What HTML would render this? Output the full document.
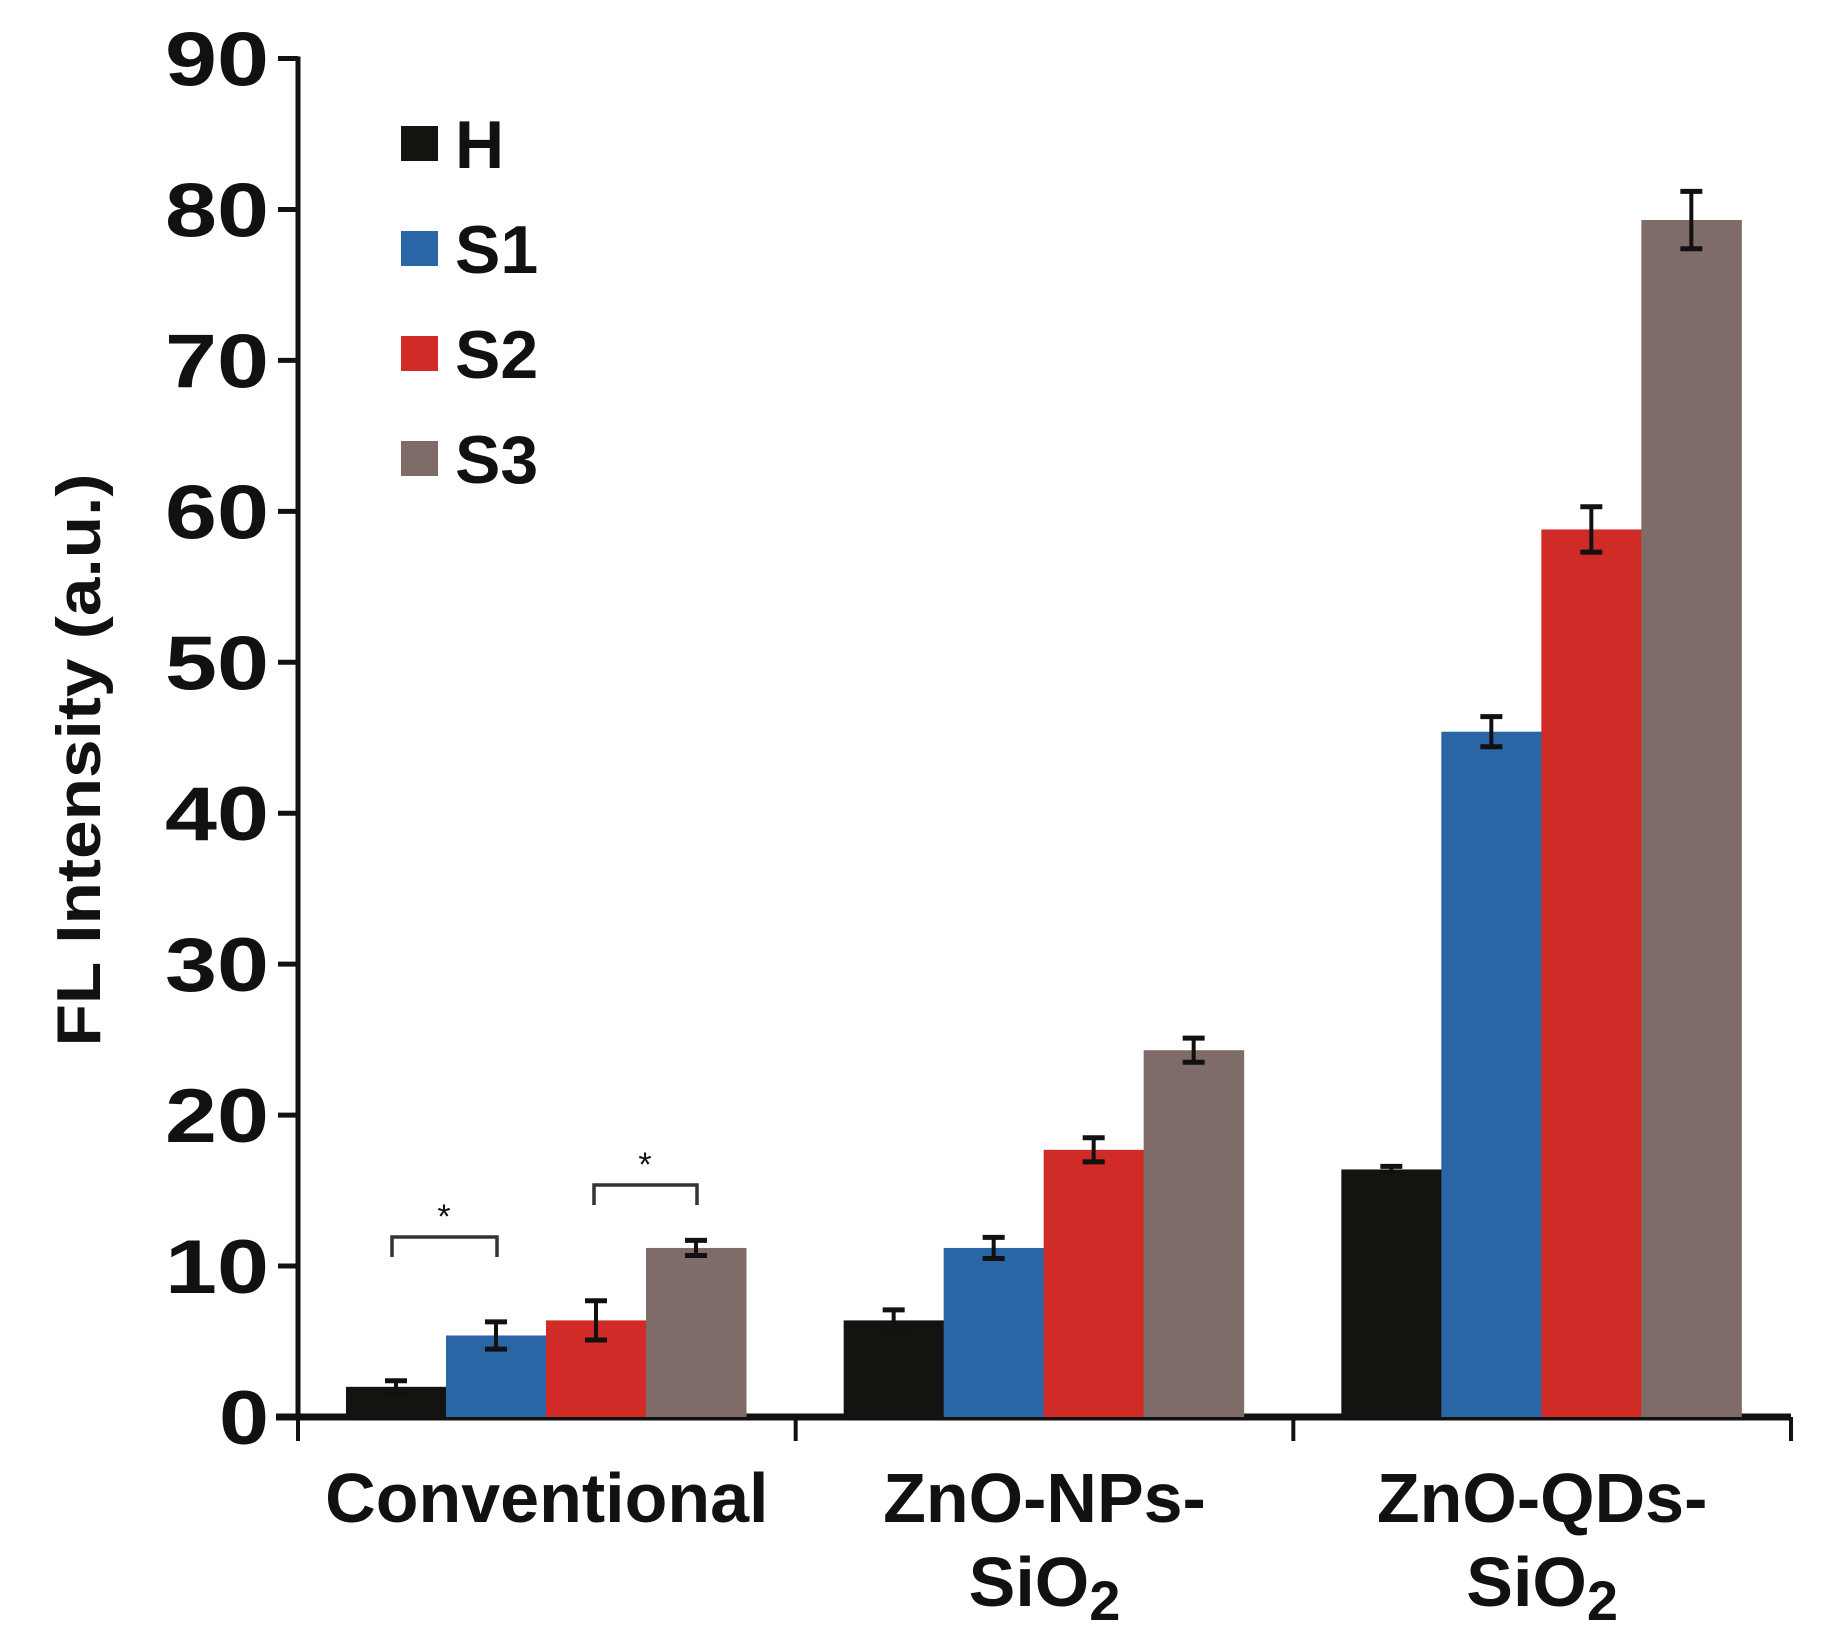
<!DOCTYPE html>
<html><head><meta charset="utf-8"><style>
html,body{margin:0;padding:0;background:#fff;}
svg{display:block;}
text{font-family:"Liberation Sans",Arial,sans-serif;font-weight:bold;fill:#111;}
</style></head><body>
<svg id="chart" width="1824" height="1648" viewBox="0 0 1824 1648" xmlns="http://www.w3.org/2000/svg">
<g id="axes"></g><g id="bars"></g><g id="errs"></g><g id="legend"></g><g id="annot"></g>
</svg>
<script>
const categories = ["Conventional", "ZnO-NPs-SiO2", "ZnO-QDs-SiO2"];
const seriesNames = ["H", "S1", "S2", "S3"];
const seriesColors = ["#15130f", "#2a65a5", "#d02b27", "#7f6c68"];
const valuesH  = [2.0, 6.4, 16.4];
const valuesS1 = [5.4, 11.2, 45.4];
const valuesS2 = [6.4, 17.7, 58.8];
const valuesS3 = [11.2, 24.3, 79.3];
const errH  = [0.4, 0.7, 0.2];
const errS1 = [0.9, 0.7, 1.0];
const errS2 = [1.3, 0.8, 1.5];
const errS3 = [0.5, 0.8, 1.9];
const yTicks = [0, 10, 20, 30, 40, 50, 60, 70, 80, 90];

const NS = "http://www.w3.org/2000/svg";
const X0 = 298, X1 = 1791, Y0 = 1417, YTOP = 58.5, YMAX = 90;
const groupW = (X1 - X0) / categories.length;
const barW = 100, barOff = 48;
function yScale(v){ return Y0 - (v / YMAX) * (Y0 - YTOP); }
function xBar(ci, si){ return X0 + ci * groupW + barOff + si * barW; }
function mk(tag, attrs, parent){
  const e = document.createElementNS(NS, tag);
  for (const k in attrs) e.setAttribute(k, attrs[k]);
  parent.appendChild(e); return e;
}
const axes = document.getElementById("axes");
const barsG = document.getElementById("bars");
const errsG = document.getElementById("errs");
const legG = document.getElementById("legend");
const annG = document.getElementById("annot");

let yl = mk("line", {x1:X0, y1:YTOP-2, x2:X0, y2:Y0+3, stroke:"#111", "stroke-width":5}, axes);


yTicks.forEach(t => {
  const y = yScale(t);
  const tk = mk("line", {x1:X0-20, y1:y, x2:X0, y2:y, stroke:"#111", "stroke-width":5}, axes);
  
  
  const lb = mk("text", {x:269, y:y+27, "text-anchor":"end", "font-size":76, textLength: t===0?50:104, lengthAdjust:"spacingAndGlyphs"}, axes);
  lb.textContent = t;
  
  
});
let xl = mk("line", {x1:X0-22, y1:Y0, x2:X1, y2:Y0, stroke:"#111", "stroke-width":7}, axes);


for (let i = 0; i <= categories.length; i++){
  const x = X0 + i * groupW;
  const tk = mk("line", {x1:x, y1:Y0, x2:x, y2:Y0+24, stroke:"#111", "stroke-width":4}, axes);
  
  
}
const yt = mk("text", {x:0, y:0, transform:"translate(100,760) rotate(-90)", "text-anchor":"middle", "font-size":62, textLength:573, lengthAdjust:"spacingAndGlyphs"}, axes);
yt.textContent = "FL Intensity (a.u.)";


function catLabel(ci, line1, line2){
  const cx = X0 + ci * groupW + groupW / 2;
  const t1 = mk("text", {x:cx, y:1522, "text-anchor":"middle", "font-size":70}, axes);
  t1.textContent = line1;
  
  
  if (line2){
    const t2 = mk("text", {x:cx, y:1606, "text-anchor":"middle", "font-size":70}, axes);
    t2.appendChild(document.createTextNode("SiO"));
    const sub = mk("tspan", {"font-size":56, dy:14}, t2);
    sub.textContent = "2";
    
    
  }
}
catLabel(0, "Conventional", false);
catLabel(1, "ZnO-NPs-", true);
catLabel(2, "ZnO-QDs-", true);

const allVals = [valuesH, valuesS1, valuesS2, valuesS3];
const allErr = [errH, errS1, errS2, errS3];
allVals.forEach((vals, si) => {
  vals.forEach((v, ci) => {
    const x = xBar(ci, si), y = yScale(v);
    const r = mk("rect", {x:x, y:y, width:barW+0.5, height:Y0-y, fill:seriesColors[si]}, barsG);
    
    
    const e = allErr[si][ci];
    const cx = x + barW/2, yt2 = yScale(v+e), yb = yScale(v-e);
    const g = mk("g", {stroke:"#111"}, errsG);
    
    
    mk("line", {x1:cx, y1:yt2, x2:cx, y2:yb, "stroke-width":4}, g);
    mk("line", {x1:cx-11, y1:yt2, x2:cx+11, y2:yt2, "stroke-width":5}, g);
    mk("line", {x1:cx-11, y1:yb, x2:cx+11, y2:yb, "stroke-width":5}, g);
  });
});
const legTops = [126, 231, 336, 441];
seriesNames.forEach((n, i) => {
  const g = mk("g", {}, legG);
  
  
  mk("rect", {x:401, y:legTops[i], width:37, height:35, fill:seriesColors[i]}, g);
  const t = mk("text", {x:455, y:legTops[i]+42, "font-size":68}, g);
  t.textContent = n;
});
function bracket(x1, x2, y, leg, ax, ay){
  const g = mk("g", {}, annG);
  
  
  mk("path", {d:`M${x1},${y+leg} L${x1},${y} L${x2},${y} L${x2},${y+leg}`, fill:"none", stroke:"#333", "stroke-width":3.5}, g);
  const t = mk("text", {x:ax, y:ay, "text-anchor":"middle", "font-size":34, fill:"#333"}, g);
  t.style.fontWeight = "normal";
  t.textContent = "*";
}
bracket(392, 497, 1237, 20, 444, 1228);
bracket(594, 697, 1185, 20, 645, 1176);
</script>
</body></html>
